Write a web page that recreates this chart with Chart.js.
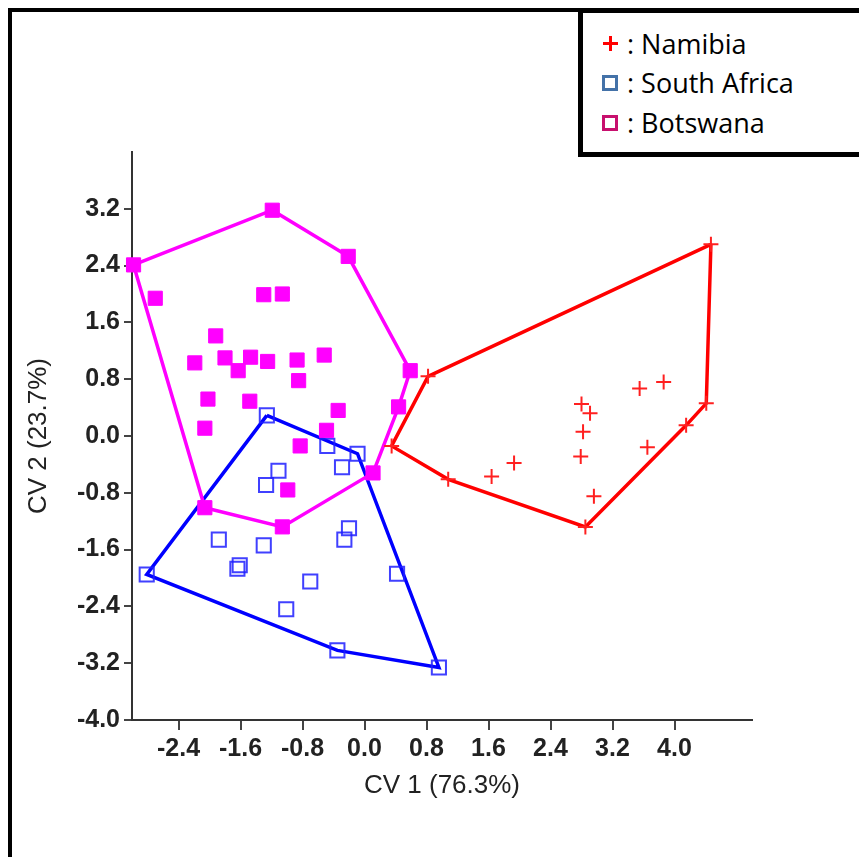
<!DOCTYPE html>
<html>
<head>
<meta charset="utf-8">
<title>CV plot</title>
<script src="https://cdn.jsdelivr.net/npm/chart.js@4.4.0/dist/chart.umd.min.js"></script>
<style>
  html, body { margin:0; padding:0; background:#fff; overflow:hidden; }
  #wrap { position:relative; width:859px; height:857px; }
  #frame { position:absolute; left:8px; top:8px; width:600px; height:900px;
           border-top:4px solid #000; border-left:4px solid #000; }
  #legendBox { position:absolute; left:578px; top:8px; width:320px; height:149px;
               box-sizing:border-box; border:5px solid #000; background:#fff;
               font-family:'Open Sans', 'Noto Sans', sans-serif; color:#000; }
  .row { position:absolute; left:0; height:40px; width:300px; }
  .mk { position:absolute; left:19px; top:12px; width:16px; height:16px; box-sizing:border-box; }
  .mk.plus { left:20px; width:15px; height:15px;
             background:linear-gradient(#f00,#f00) center/3px 100% no-repeat,
                        linear-gradient(#f00,#f00) center/100% 3px no-repeat; }
  .mk.sq { border:3px solid; }
  .txt { position:absolute; left:44px; top:0; line-height:40px; font-size:27px; white-space:nowrap; }
</style>
</head>
<body>
<div id="wrap">
  <canvas id="cvChart"></canvas>
  <div id="frame"></div>
  <div id="legendBox">
    <div class="row" style="top:11px"><span class="mk plus"></span><span class="txt">: Namibia</span></div>
    <div class="row" style="top:50px"><span class="mk sq" style="border-color:#4472a8"></span><span class="txt">: South Africa</span></div>
    <div class="row" style="top:90px"><span class="mk sq" style="border-color:#c8106e"></span><span class="txt">: Botswana</span></div>
  </div>
</div>
<script>
// scores: CV 1 (x) and CV 2 (y) per specimen
const namibiaX = [4.47, 0.82, 0.35, 1.08, 1.64, 1.93, 2.85, 2.96, 2.79, 2.82, 2.80, 2.91, 3.55, 3.86, 3.65, 4.15, 4.41];
const namibiaY = [2.70, 0.84, -0.14, -0.61, -0.57, -0.38, -1.28, -0.85, -0.29, 0.06, 0.45, 0.32, 0.67, 0.76, -0.16, 0.15, 0.46];
const namibiaHull = [0, 16, 15, 6, 3, 2, 1, 0];

const southAfricaX = [-1.26, -0.48, -0.09, -0.29, -1.11, -1.27, -1.88, -1.30, -0.20, -0.26, -1.61, -1.64, -2.81, -0.70, 0.42, -1.01, -0.35, 0.96];
const southAfricaY = [0.29, -0.14, -0.25, -0.44, -0.49, -0.69, -1.46, -1.54, -1.30, -1.46, -1.82, -1.87, -1.95, -2.05, -1.94, -2.44, -3.02, -3.26];
const southAfricaHull = [0, 2, 17, 16, 12, 0];

const botswanaX = [-2.98, -2.70, -1.19, -0.21, -1.30, -1.06, -1.92, -2.19, -1.80, -1.63, -1.47, -1.25, -0.87, -0.52,
                   -0.85, 0.59, -2.02, -1.48, -0.34, 0.44, -2.06, -0.49, -0.83, -0.99, -2.06, -1.06, 0.11];
const botswanaY = [2.41, 1.94, 3.18, 2.53, 1.99, 2.00, 1.41, 1.03, 1.10, 0.92, 1.11, 1.05, 1.07, 1.14,
                   0.78, 0.92, 0.52, 0.49, 0.36, 0.41, 0.11, 0.08, -0.14, -0.76, -1.01, -1.28, -0.52];
const botswanaHull = [0, 2, 3, 15, 19, 26, 25, 24, 0];

const xTickVals = [-2.4, -1.6, -0.8, 0.0, 0.8, 1.6, 2.4, 3.2, 4.0];
const yTickVals = [-4.0, -3.2, -2.4, -1.6, -0.8, 0.0, 0.8, 1.6, 2.4, 3.2];

function pts(xs, ys){ return xs.map((x, i) => ({x: x, y: ys[i]})); }
function hullPts(xs, ys, idx){ return idx.map(i => ({x: xs[i], y: ys[i]})); }

const tickFont = {family: "'Liberation Sans', Arial, sans-serif", size: 25, weight: 'bold'};
const titleFont = {family: "'Liberation Sans', Arial, sans-serif", size: 26};

function hullSet(label, data, color, order){
  return {label, data, showLine: true, fill: false, tension: 0, borderColor: color,
          borderWidth: 3.5, pointRadius: 0, clip: false, order};
}

const ctx = document.getElementById('cvChart').getContext('2d');
new Chart(ctx, {
  type: 'scatter',
  data: {
    datasets: [
      hullSet('South Africa hull', hullPts(southAfricaX, southAfricaY, southAfricaHull), '#0000ff', 6),
      {label: 'South Africa', data: pts(southAfricaX, southAfricaY), pointStyle: 'rect', pointRadius: 10,
       pointBorderWidth: 2, borderColor: 'rgba(30,30,255,0.85)', backgroundColor: 'rgba(0,0,0,0)', clip: false, order: 5},
      hullSet('Botswana hull', hullPts(botswanaX, botswanaY, botswanaHull), '#ff00ff', 4),
      {label: 'Botswana', data: pts(botswanaX, botswanaY), pointStyle: 'rect', pointRadius: 10,
       pointBorderWidth: 1, borderColor: '#ff00ff', backgroundColor: '#ff00ff', clip: false, order: 3},
      hullSet('Namibia hull', hullPts(namibiaX, namibiaY, namibiaHull), '#ff0000', 2),
      {label: 'Namibia', data: pts(namibiaX, namibiaY), pointStyle: 'cross', pointRadius: 7.5,
       pointBorderWidth: 2, borderColor: '#ff2020', backgroundColor: '#ff2020', clip: false, order: 1}
    ]
  },
  options: {
    responsive: true,
    maintainAspectRatio: false,
    animation: false,
    events: [],
    layout: { padding: {top: 152, right: 107, left: 0, bottom: 0} },
    plugins: { legend: {display: false}, tooltip: {enabled: false} },
    scales: {
      x: {
        type: 'linear', min: -3, max: 5,
        afterBuildTicks: s => { s.ticks = xTickVals.map(v => ({value: v})); },
        afterFit: s => { s.height = 137; },
        ticks: {autoSkip: false, maxRotation: 0, padding: 4, font: tickFont, color: '#222',
                callback: v => Number(v).toFixed(1)},
        grid: {drawOnChartArea: false, tickLength: 10, color: '#444', lineWidth: 2},
        border: {display: true, color: '#333', width: 2},
        title: {display: true, text: 'CV 1 (76.3%)', font: titleFont, color: '#222', padding: {top: 0, bottom: 56}}
      },
      y: {
        type: 'linear', min: -4, max: 4,
        afterBuildTicks: s => { s.ticks = yTickVals.map(v => ({value: v})); },
        afterFit: s => { s.width = 132; },
        ticks: {autoSkip: false, padding: 4, font: tickFont, color: '#222',
                callback: v => Number(v).toFixed(1)},
        grid: {drawOnChartArea: false, tickLength: 8, color: '#444', lineWidth: 2},
        border: {display: true, color: '#333', width: 2},
        title: {display: true, text: 'CV 2 (23.7%)', font: titleFont, color: '#222', padding: {top: 23, bottom: 0}}
      }
    }
  }
});
</script>
</body>
</html>
